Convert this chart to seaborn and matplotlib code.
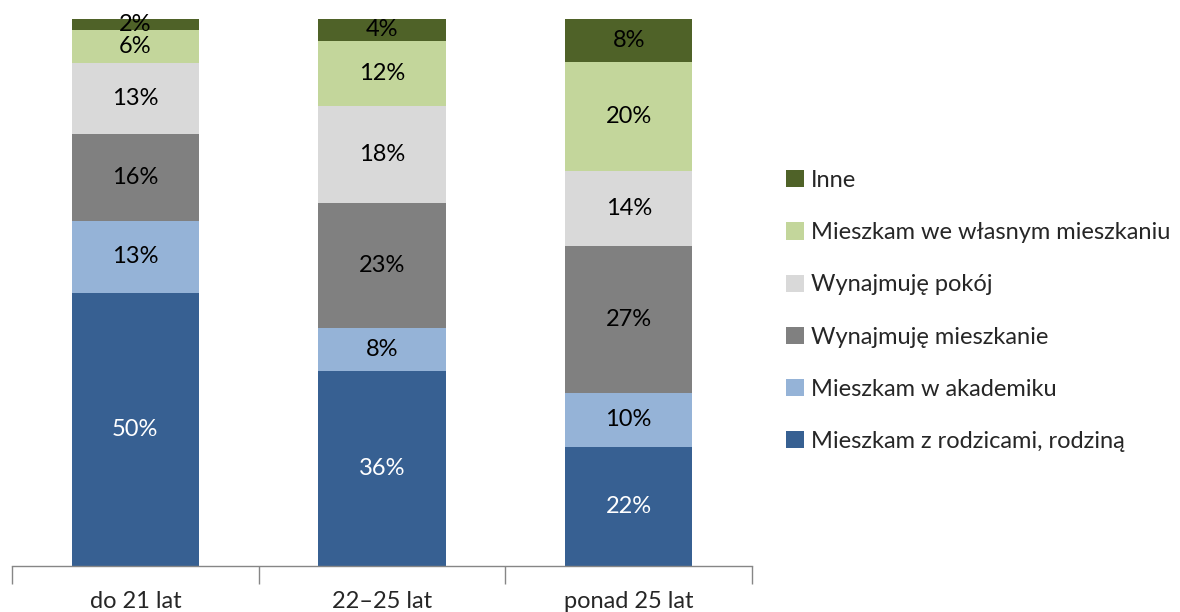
import matplotlib
matplotlib.use("Agg")
import matplotlib.pyplot as plt
from matplotlib.patches import Patch
import seaborn as sns
import numpy as np

categories = ["do 21 lat", "22–25 lat", "ponad 25 lat"]
series = ["Mieszkam z rodzicami, rodziną", "Mieszkam w akademiku", "Wynajmuję mieszkanie",
          "Wynajmuję pokój", "Mieszkam we własnym mieszkaniu", "Inne"]
z_rodzicami = [50, 36, 22]
akademik = [13, 8, 10]
wynajmuje_mieszkanie = [16, 23, 27]
wynajmuje_pokoj = [13, 18, 14]
wlasne_mieszkanie = [6, 12, 20]
inne = [2, 4, 8]

colors = ["#376092", "#95B3D7", "#808080", "#D9D9D9", "#C3D69B", "#4F6228"]
text_colors = ["white", "black", "black", "black", "black", "black"]

sns.set_theme(style="white")
plt.rcParams['font.family'] = ['Lato', 'DejaVu Sans']

data = np.array([z_rodzicami, akademik, wynajmuje_mieszkanie, wynajmuje_pokoj,
                 wlasne_mieszkanie, inne], dtype=float)
totals = data.sum(axis=0)
shares = data / totals * 100

fig = plt.figure(figsize=(11.8, 6.12), dpi=100)
ax = fig.add_axes([12 / 1180, 1 - 566 / 612, 740 / 1180, (566 - 19) / 612])

bottom = np.zeros(len(categories))
for i, name in enumerate(series):
    sns.barplot(x=categories, y=shares[i], bottom=bottom, color=colors[i], ax=ax,
                width=0.515, saturation=1, linewidth=0)
    for j in range(len(categories)):
        ax.text(j, bottom[j] + shares[i][j] / 2, f"{int(data[i][j])}%", ha="center",
                va="center", fontsize=17, color=text_colors[i])
    bottom = bottom + shares[i]

ax.set_xlim(-0.5, 2.5)
ax.set_ylim(0, 100)
ax.set_yticks([])
for s in ["top", "right", "left"]:
    ax.spines[s].set_visible(False)
ax.spines["bottom"].set_color("#868686")
ax.spines["bottom"].set_linewidth(1)
ax.set_xticks([-0.5, 0.5, 1.5, 2.5])
ax.set_xticklabels([])
ax.set_xticks([0, 1, 2], minor=True)
ax.set_xticklabels(categories, minor=True, fontsize=17)
ax.tick_params(axis="x", which="major", length=13, width=1, color="#868686", direction="out", bottom=True)
ax.tick_params(axis="x", which="minor", length=0, pad=18)
ax.set_xlabel("")
ax.set_ylabel("")

handles = [Patch(facecolor=colors[i], edgecolor="none", label=series[i]) for i in range(len(series) - 1, -1, -1)]
fig.legend(handles=handles, loc="center left", bbox_to_anchor=(786 / 1180, 1 - 311 / 612),
           frameon=False, fontsize=17, handlelength=0.75, handleheight=0.75,
           handletextpad=0.3, labelspacing=1.32, borderaxespad=0, borderpad=0)

fig.savefig("out.png", dpi=100)
